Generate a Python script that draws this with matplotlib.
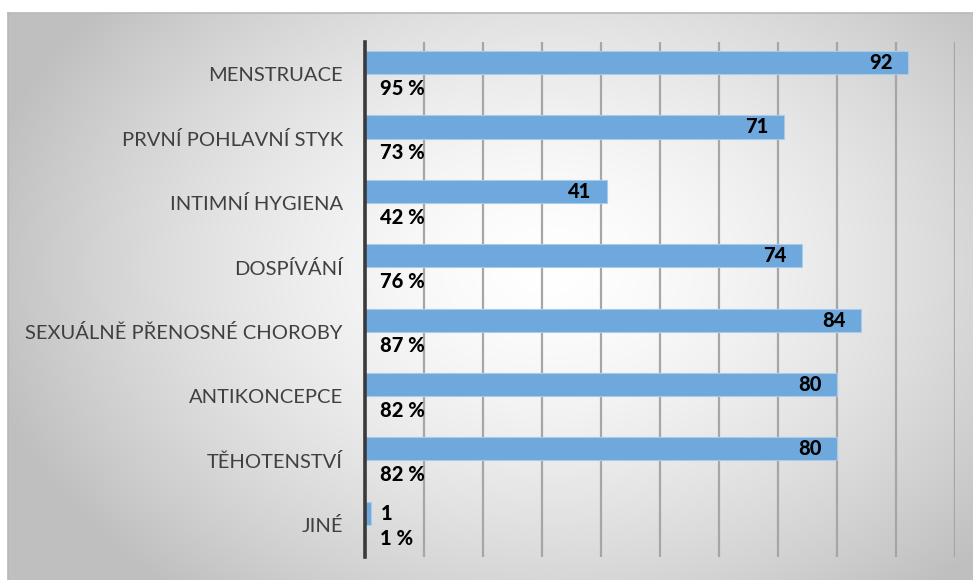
import matplotlib
matplotlib.use("Agg")
import matplotlib.pyplot as plt
import numpy as np

plt.rcParams['font.family'] = ['Lato', 'DejaVu Sans']

kategorie = ["MENSTRUACE", "PRVNÍ POHLAVNÍ STYK", "INTIMNÍ HYGIENA", "DOSPÍVÁNÍ",
             "SEXUÁLNĚ PŘENOSNÉ CHOROBY", "ANTIKONCEPCE", "TĚHOTENSTVÍ", "JINÉ"]
pocty = [92, 71, 41, 74, 84, 80, 80, 1]
procenta = [95, 73, 42, 76, 87, 82, 82, 1]

W, H = 973, 580
fig = plt.figure(figsize=(W / 100, H / 100), dpi=100)
fig.patch.set_facecolor("white")

# pozadí s radiálním přechodem
bg = fig.add_axes([8 / W, 0, (W - 8) / W, (H - 13) / H])
gx, gy = np.meshgrid(np.linspace(0, 1, 400), np.linspace(0, 1, 300))
r = np.sqrt(((gx - 0.56) / 0.6) ** 2 + ((gy - 0.45) / 0.75) ** 2)
val = 1 - 0.25 * np.clip(r, 0, 1) ** 1.5
bg.imshow(np.dstack([val, val, val]), aspect="auto", extent=[0, 1, 0, 1], origin="upper")
bg.set_xlim(0, 1)
bg.set_ylim(0, 1)
bg.set_xticks([])
bg.set_yticks([])
for s in ["right", "bottom"]:
    bg.spines[s].set_visible(False)
for s in ["top", "left"]:
    bg.spines[s].set_color("#b8b8b8")
    bg.spines[s].set_linewidth(1.2)

ax = fig.add_axes([365 / W, (H - 557) / H, (955 - 365) / W, (557 - 42) / H])
ax.patch.set_alpha(0)
y = np.arange(len(kategorie))
ax.barh(y - 0.18, pocty, height=0.36, color="#6fa8dc", edgecolor="#a9cbeb",
        linewidth=0.8, zorder=3)
ax.set_xlim(0, 100)
ax.set_ylim(len(kategorie) - 0.5, -0.5)
ax.set_xticks(np.arange(10, 101, 10))
ax.set_xticklabels([])
ax.tick_params(axis="x", length=0)
ax.tick_params(axis="y", length=0, pad=16)
ax.grid(axis="x", color="#a6a6a6", linewidth=1.6, zorder=1)
ax.set_yticks(y)
ax.set_yticklabels(kategorie, fontsize=14.5, color="#404040")
for s in ["top", "right", "bottom"]:
    ax.spines[s].set_visible(False)
ax.spines["left"].set_color("#3a3a3a")
ax.spines["left"].set_linewidth(2.6)
ax.spines["left"].set_zorder(4)

popis = dict(va="center", fontsize=14.5, fontweight=900, color="black", zorder=5,
             textcoords="offset points")
for i, (v, p) in enumerate(zip(pocty, procenta)):
    if v < 10:
        ax.annotate(str(v), xy=(v, i - 0.18), xytext=(7, 0), ha="left", **popis)
    else:
        ax.annotate(str(v), xy=(v, i - 0.18), xytext=(-11, 0), ha="right", **popis)
    ax.annotate(f"{p} %", xy=(0, i + 0.22), xytext=(11, 0), ha="left", **popis)

fig.savefig("out.png", dpi=100)
